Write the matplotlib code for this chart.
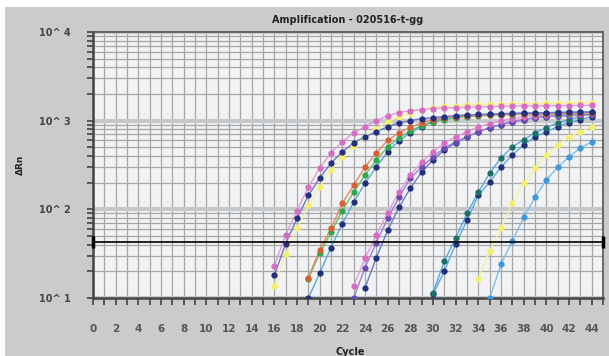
import matplotlib
matplotlib.use("Agg")
import matplotlib.pyplot as plt
from matplotlib.patches import Rectangle
from matplotlib.ticker import LogLocator, FixedLocator, NullFormatter, MultipleLocator

# amplification curves: first visible cycle + dRn values up to cycle 44
g1_pink_start = 16
g1_pink = [23, 52, 97, 178, 292, 433, 577, 731, 855, 1000, 1140, 1234, 1300, 1334, 1369,
           1390, 1405, 1420, 1430, 1442, 1450, 1460, 1465, 1470, 1475, 1480, 1480, 1485, 1490]
g1_navy_start = 16
g1_navy = [18, 41, 79, 144, 225, 333, 444, 563, 658, 750, 855, 949, 1000, 1054, 1082,
           1111, 1140, 1160, 1175, 1190, 1200, 1210, 1220, 1225, 1230, 1235, 1240, 1245, 1250]
g1_yellow_start = 16
g1_yellow = [13.7, 31, 61, 111, 178, 277, 390, 520, 658, 811, 975, 1110, 1234, 1334, 1405,
             1450, 1480, 1500, 1520, 1530, 1540, 1550, 1555, 1560, 1565, 1570, 1575, 1580, 1585]
g2_orange_start = 19
g2_orange = [17, 35, 61, 117, 187, 300, 433, 600, 730, 840, 949, 1026, 1082, 1110, 1130,
             1145, 1160, 1170, 1180, 1190, 1195, 1200, 1205, 1210, 1215, 1220]
g2_green_start = 19
g2_green = [16.5, 32, 55, 97, 156, 243, 360, 507, 641, 770, 877, 975, 1026, 1082, 1110,
            1130, 1145, 1160, 1170, 1180, 1185, 1190, 1195, 1200, 1205, 1210]
g2_navy_start = 19
g2_navy = [10, 19, 37, 69, 120, 197, 300, 444, 593, 731, 855, 975, 1054, 1110, 1140,
           1160, 1175, 1190, 1200, 1210, 1220, 1230, 1240, 1250, 1255, 1260]
g3_pink_start = 23
g3_pink = [13.7, 28, 51, 92, 156, 243, 342, 444, 563, 658, 750, 855, 925, 1000, 1054,
           1110, 1140, 1160, 1180, 1190, 1200, 1210]
g3_purple_start = 23
g3_purple = [10, 22, 42, 79, 137, 225, 300, 390, 493, 577, 658, 750, 830, 900, 975,
             1026, 1082, 1110, 1130, 1140, 1150, 1160]
g3_navy_start = 24
g3_navy = [13, 28.5, 58, 105, 173, 263, 360, 468, 563, 658, 750, 830, 900, 975, 1026,
           1082, 1110, 1130, 1150, 1170, 1190]
g4_teal_start = 30
g4_teal = [11.4, 26, 48, 90, 156, 256, 380, 507, 608, 731, 832, 949, 1026, 1110, 1234]
g4_navy_start = 30
g4_navy = [11, 20, 41, 75, 144, 203, 300, 411, 533, 658, 750, 855, 949, 1026, 1110]
g5_yellow_start = 34
g5_yellow = [16.5, 34, 62, 117, 197, 292, 411, 533, 658, 750, 855]
g6_blue_start = 35
g6_blue = [10, 24, 44, 81, 137, 214, 300, 390, 493, 577]

threshold = 43
x_ticks = list(range(0, 45, 2))
y_ticks = [10, 100, 1000, 10000]
y_tick_labels = ["10^ 1", "10^ 2", "10^ 3", "10^ 4"]

# (start, values, marker colour, line colour) - drawn back to front
series = [
    (g6_blue_start, g6_blue, "#3f98dc", "#7cc0ee"),
    (g5_yellow_start, g5_yellow, "#f2f06a", "#f4f29a"),
    (g4_navy_start, g4_navy, "#1f2f78", "#5aa8dc"),
    (g4_teal_start, g4_teal, "#1d6e68", "#5aa8dc"),
    (g3_navy_start, g3_navy, "#22307e", "#6a78c8"),
    (g3_purple_start, g3_purple, "#6a4cb0", "#9a80d8"),
    (g3_pink_start, g3_pink, "#d66cc4", "#e49ad8"),
    (g2_navy_start, g2_navy, "#1f2f78", "#5aa8dc"),
    (g2_green_start, g2_green, "#2ea84a", "#60c070"),
    (g2_orange_start, g2_orange, "#d85e36", "#e88a60"),
    (g1_yellow_start, g1_yellow, "#f2f06a", "#f4f29a"),
    (g1_navy_start, g1_navy, "#22307e", "#6a78c8"),
    (g1_pink_start, g1_pink, "#d66cc4", "#e49ad8"),
]

bg = "#c9cbcd"
fig = plt.figure(figsize=(6.09, 3.56), dpi=100, facecolor="white")
fig.patches.append(Rectangle((5 / 609, 0), 1, 1 - 7 / 356, transform=fig.transFigure,
                             facecolor=bg, edgecolor="none", zorder=-10))
ax = fig.add_axes([93 / 609, 1 - 298 / 356, 510 / 609, 266 / 356])
ax.set_facecolor("#f0f2f4")

for start, vals, mc, lc in series:
    xs = list(range(start, start + len(vals)))
    ax.plot(xs, vals, "-", color=lc, lw=1.0, zorder=3)
    ax.plot(xs, vals, "o", color=mc, ms=4.5, mew=0, zorder=4)

ax.axhline(threshold, color="#111111", lw=1.3, zorder=5)
ax.plot([0, 45], [threshold, threshold], "|", color="black", ms=8, mew=2.5,
        zorder=6, clip_on=False)

ax.set_yscale("log")
ax.set_xlim(0, 45)
ax.set_ylim(10, 10000)

ax.xaxis.set_major_locator(FixedLocator(x_ticks))
ax.xaxis.set_minor_locator(MultipleLocator(1))
ax.set_xticklabels([str(t) for t in x_ticks])
ax.yaxis.set_major_locator(FixedLocator(y_ticks))
ax.set_yticklabels(y_tick_labels)
ax.yaxis.set_minor_locator(LogLocator(base=10, subs=range(2, 10)))
ax.yaxis.set_minor_formatter(NullFormatter())

ax.grid(True, which="minor", axis="both", color="#a6a6a6", lw=0.9, zorder=1)
ax.grid(True, which="major", axis="x", color="#a6a6a6", lw=0.9, zorder=1)
ax.grid(True, which="major", axis="y", color="#c6c9cc", lw=3, zorder=1)
ax.set_axisbelow(True)

ax.tick_params(axis="x", which="both", direction="out", length=5, width=1.2,
               color="#444444", pad=14, labelsize=7.5, labelcolor="#555555")
ax.tick_params(axis="y", which="both", direction="out", length=4, width=1.2,
               color="#444444", pad=12, labelsize=7, labelcolor="#444444")
for lab in ax.get_xticklabels() + ax.get_yticklabels():
    lab.set_fontweight("bold")

for side in ["left", "bottom"]:
    ax.spines[side].set_color("#444444")
    ax.spines[side].set_linewidth(1.8)
for side in ["top", "right"]:
    ax.spines[side].set_color("#555555")
    ax.spines[side].set_linewidth(1.2)

fig.text(348 / 609, 1 - 20 / 356, "Amplification - 020516-t-gg", ha="center", va="center",
         fontsize=7, fontweight="bold", color="#222222")
fig.text(20 / 609, 1 - 165 / 356, "ΔRn", ha="center", va="center", rotation=90,
         fontsize=6.5, fontweight="bold", color="#222222")
fig.text(350 / 609, 1 - 352 / 356, "Cycle", ha="center", va="center",
         fontsize=7, fontweight="bold", color="#222222")

fig.savefig("out.png", dpi=100, facecolor=fig.get_facecolor())
